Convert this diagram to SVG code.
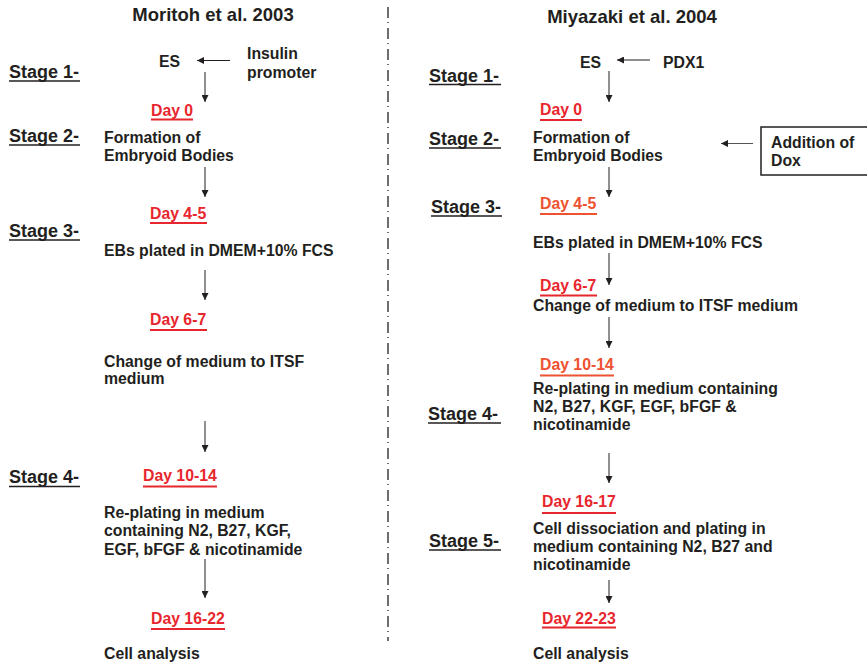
<svg xmlns="http://www.w3.org/2000/svg" width="867" height="664" viewBox="0 0 867 664">
<defs>
<marker id="ah" viewBox="0 0 10 10" refX="10" refY="5" markerWidth="7" markerHeight="7" markerUnits="userSpaceOnUse" orient="auto">
<path d="M0,0 L10,5 L0,10 z" fill="#231f20"/>
</marker>
<style>
text{font-family:"Liberation Sans",Arial,sans-serif;font-weight:bold;fill:#231f20}
.title{font-size:18.5px}
.stage{font-size:18px}
.body{font-size:15.8px}
.red{fill:#e8262d}
.orange{fill:#ee5230}
.ul{stroke:#231f20;stroke-width:1.6}
.ulr{stroke:#e8262d;stroke-width:2}
.ulo{stroke:#ee5230;stroke-width:2}
.arr{stroke:#231f20;stroke-width:1;fill:none;marker-end:url(#ah)}
</style>
</defs>
<rect width="867" height="664" fill="#fff"/>

<!-- divider -->
<line x1="388" y1="7" x2="388" y2="641" stroke="#231f20" stroke-width="1.3" stroke-dasharray="11 4 1 5"/>

<!-- titles -->
<g id="title-left"><text class="title" x="213" y="21" text-anchor="middle">Moritoh et al. 2003</text></g>
<g id="title-right"><text class="title" x="632" y="23" text-anchor="middle">Miyazaki et al. 2004</text></g>

<!-- LEFT COLUMN -->
<g id="L-stage1"><text class="stage" x="9" y="78">Stage 1-</text><line class="ul" x1="9" y1="81" x2="80" y2="81"/></g>
<g id="L-stage2"><text class="stage" x="9" y="142">Stage 2-</text><line class="ul" x1="9" y1="145" x2="80" y2="145"/></g>
<g id="L-stage3"><text class="stage" x="9" y="237">Stage 3-</text><line class="ul" x1="9" y1="240" x2="80" y2="240"/></g>
<g id="L-stage4"><text class="stage" x="9" y="483">Stage 4-</text><line class="ul" x1="9" y1="486.5" x2="80" y2="486.5"/></g>

<g id="L-es"><text class="body" x="159" y="67">ES</text></g>
<g id="L-insulin"><text class="body" x="247" y="59">Insulin</text><text class="body" x="247" y="78">promoter</text></g>
<g id="L-day0"><text class="body red" x="151" y="116">Day 0</text><line class="ulr" x1="151" y1="119.5" x2="193" y2="119.5"/></g>
<g id="L-eb"><text class="body" x="104" y="142.5">Formation of</text><text class="body" x="104" y="160.5">Embryoid Bodies</text></g>
<g id="L-day45"><text class="body red" x="150" y="219">Day 4-5</text><line class="ulr" x1="150" y1="223" x2="207" y2="223"/></g>
<g id="L-plated"><text class="body" x="104" y="256">EBs plated in DMEM+10% FCS</text></g>
<g id="L-day67"><text class="body red" x="150" y="325">Day 6-7</text><line class="ulr" x1="150" y1="330" x2="207" y2="330"/></g>
<g id="L-itsf"><text class="body" x="104" y="366.5">Change of medium to ITSF</text><text class="body" x="104" y="383.5">medium</text></g>
<g id="L-day1014"><text class="body red" x="143" y="481">Day 10-14</text><line class="ulr" x1="143" y1="486.5" x2="217" y2="486.5"/></g>
<g id="L-replating"><text class="body" x="104" y="518">Re-plating in medium</text><text class="body" x="104" y="536">containing N2, B27, KGF,</text><text class="body" x="104" y="554.5">EGF, bFGF &amp; nicotinamide</text></g>
<g id="L-day1622"><text class="body red" x="151" y="623.5">Day 16-22</text><line class="ulr" x1="151" y1="629" x2="225" y2="629"/></g>
<g id="L-cell"><text class="body" x="104" y="658.5">Cell analysis</text></g>

<!-- RIGHT COLUMN -->
<g id="R-stage1"><text class="stage" x="429" y="81.5">Stage 1-</text><line class="ul" x1="429" y1="84.5" x2="501" y2="84.5"/></g>
<g id="R-stage2"><text class="stage" x="429" y="145">Stage 2-</text><line class="ul" x1="429" y1="148" x2="501" y2="148"/></g>
<g id="R-stage3"><text class="stage" x="431" y="213">Stage 3-</text><line class="ul" x1="431" y1="216" x2="502" y2="216"/></g>
<g id="R-stage4"><text class="stage" x="428" y="420">Stage 4-</text><line class="ul" x1="428" y1="423" x2="501" y2="423"/></g>
<g id="R-stage5"><text class="stage" x="429" y="547">Stage 5-</text><line class="ul" x1="429" y1="550" x2="501" y2="550"/></g>

<g id="R-es"><text class="body" x="580" y="67.5">ES</text></g>
<g id="R-pdx1"><text class="body" x="663" y="67.5">PDX1</text></g>
<g id="R-day0"><text class="body red" x="540" y="115">Day 0</text><line class="ulr" x1="540" y1="120" x2="582" y2="120"/></g>
<g id="R-eb"><text class="body" x="533" y="142.5">Formation of</text><text class="body" x="533" y="160.5">Embryoid Bodies</text></g>
<g id="R-dox"><rect x="761" y="127" width="110" height="48" fill="#fff" stroke="#231f20" stroke-width="1.5"/><text class="body" x="771" y="148">Addition of</text><text class="body" x="771" y="166">Dox</text></g>
<g id="R-day45"><text class="body orange" x="540" y="208.5">Day 4-5</text><line class="ulo" x1="540" y1="214" x2="597" y2="214"/></g>
<g id="R-plated"><text class="body" x="533" y="247.5">EBs plated in DMEM+10% FCS</text></g>
<g id="R-day67"><text class="body red" x="540" y="291">Day 6-7</text><line class="ulr" x1="540" y1="295.5" x2="597" y2="295.5"/></g>
<g id="R-itsf"><text class="body" x="533" y="311">Change of medium to ITSF medium</text></g>
<g id="R-day1014"><text class="body orange" x="540" y="370">Day 10-14</text><line class="ulo" x1="540" y1="375.5" x2="614" y2="375.5"/></g>
<g id="R-replating"><text class="body" x="533" y="394">Re-plating in medium containing</text><text class="body" x="533" y="412">N2, B27, KGF, EGF, bFGF &amp;</text><text class="body" x="533" y="430">nicotinamide</text></g>
<g id="R-day1617"><text class="body red" x="542" y="507">Day 16-17</text><line class="ulr" x1="542" y1="513" x2="616" y2="513"/></g>
<g id="R-dissoc"><text class="body" x="533" y="533.5">Cell dissociation and plating in</text><text class="body" x="533" y="552">medium containing N2, B27 and</text><text class="body" x="533" y="570">nicotinamide</text></g>
<g id="R-day2223"><text class="body red" x="542" y="623.5">Day 22-23</text><line class="ulr" x1="542" y1="627.5" x2="616" y2="627.5"/></g>
<g id="R-cell"><text class="body" x="533" y="658.5">Cell analysis</text></g>

<!-- connectors -->
<g id="connectors">
<line class="arr" x1="230" y1="60.5" x2="197" y2="60.5"/>
<line class="arr" x1="205" y1="72" x2="205" y2="102"/>
<line class="arr" x1="205" y1="167" x2="205" y2="197"/>
<line class="arr" x1="205" y1="270" x2="205" y2="300"/>
<line class="arr" x1="205" y1="421" x2="205" y2="452"/>
<line class="arr" x1="205" y1="559" x2="205" y2="598"/>

<line class="arr" x1="650" y1="60" x2="617" y2="60"/>
<line class="arr" x1="609" y1="71" x2="609" y2="102"/>
<line class="arr" x1="753" y1="143.5" x2="721" y2="143.5" style="stroke:#555"/>
<line class="arr" x1="609" y1="167" x2="609" y2="197"/>
<line class="arr" x1="609" y1="253" x2="609" y2="285"/>
<line class="arr" x1="609" y1="317" x2="609" y2="348"/>
<line class="arr" x1="609" y1="453" x2="609" y2="483"/>
<line class="arr" x1="609" y1="580" x2="609" y2="603"/>
</g>
</svg>
